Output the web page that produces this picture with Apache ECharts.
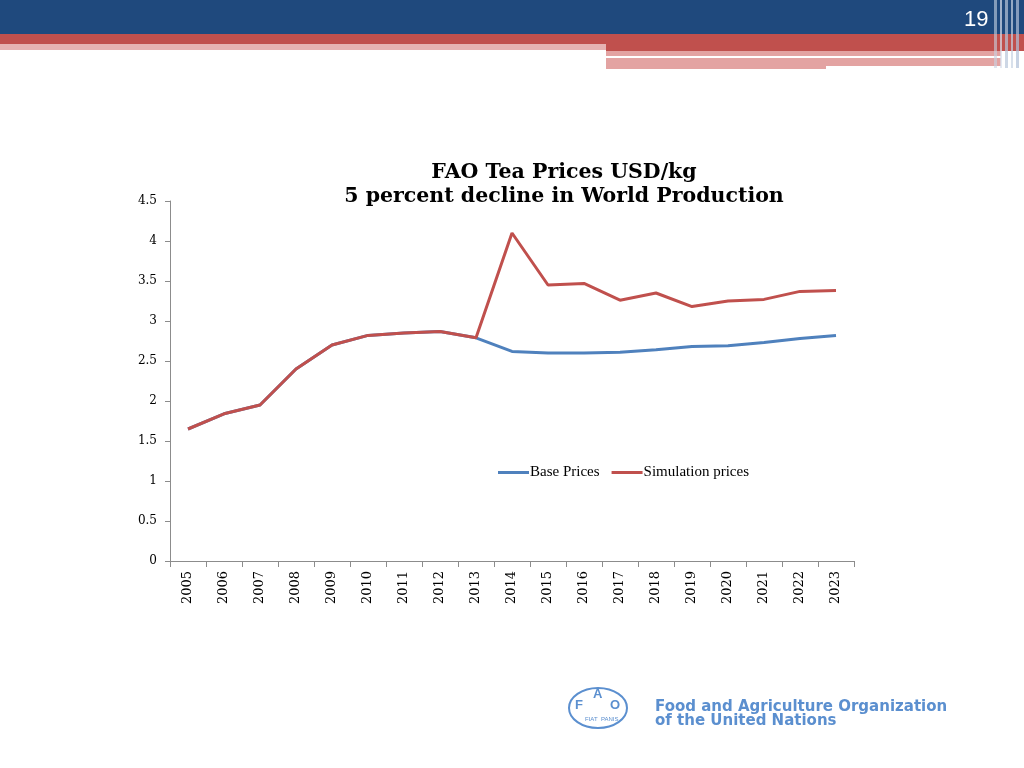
<!DOCTYPE html>
<html>
<head>
<meta charset="utf-8">
<script src="https://cdn.jsdelivr.net/npm/echarts@6/dist/echarts.min.js"></script>
<style>
html,body{margin:0;padding:0;background:#fff;}
#c{width:1024px;height:768px;}
</style>
</head>
<body>
<div id="c"></div>
<script>
var years = ['2005','2006','2007','2008','2009','2010','2011','2012','2013','2014','2015','2016','2017','2018','2019','2020','2021','2022','2023'];
var basePrices = [1.65,1.84,1.95,2.40,2.70,2.82,2.85,2.87,2.79,2.62,2.60,2.60,2.61,2.64,2.68,2.69,2.73,2.78,2.82];
var simulationPrices = [1.65,1.84,1.95,2.40,2.70,2.82,2.85,2.87,2.79,4.10,3.45,3.47,3.26,3.35,3.18,3.25,3.27,3.37,3.38];
var yTicks = ['0','0.5','1','1.5','2','2.5','3','3.5','4','4.5'];

var serif = '"DejaVu Serif","Liberation Serif",serif';
var serif2 = '"Liberation Serif","DejaVu Serif",serif';
var chart = echarts.init(document.getElementById('c'));
chart.setOption({
  backgroundColor: '#ffffff',
  animation: false,
  title: {
    text: 'FAO Tea Prices USD/kg\n5 percent decline in World Production',
    left: 559, top: 156, textAlign: 'center',
    textStyle: {fontFamily: serif, fontWeight: 'bold', fontSize: 20.5, lineHeight: 24, color: '#000'}
  },
  legend: {
    left: 493, top: 460,
    itemWidth: 31, itemHeight: 3, itemGap: 12,
    icon: 'rect',
    textStyle: {fontFamily: serif2, fontSize: 15, color: '#000', padding: [0,0,0,-4]},
    data: ['Base Prices','Simulation prices']
  },
  grid: {left: 170, right: 170, top: 201, bottom: 207, containLabel: false},
  xAxis: {
    type: 'category',
    data: years,
    boundaryGap: true,
    axisLine: {lineStyle: {color: '#8c8c8c', width: 1}},
    axisTick: {show: true, interval: 0, length: 6, lineStyle: {color: '#8c8c8c'}},
    axisLabel: {interval: 0, rotate: 90, fontFamily: serif, fontSize: 13, color: '#000', margin: 10}
  },
  yAxis: {
    type: 'value', min: 0, max: 4.5, interval: 0.5,
    axisLine: {show: true, lineStyle: {color: '#8c8c8c', width: 1}},
    axisTick: {show: true, length: 5, lineStyle: {color: '#8c8c8c'}},
    splitLine: {show: false},
    axisLabel: {fontFamily: serif, fontSize: 12, color: '#000', margin: 13,
      formatter: function(v){ var i = Math.round(v/0.5); return yTicks[i]; }}
  },
  series: [
    {name: 'Base Prices', type: 'line', data: basePrices, symbol: 'none',
     lineStyle: {color: '#4f81bd', width: 3}, itemStyle: {color: '#4f81bd'}},
    {name: 'Simulation prices', type: 'line', data: simulationPrices, symbol: 'none',
     lineStyle: {color: '#c0504d', width: 3}, itemStyle: {color: '#c0504d'}}
  ],
  graphic: [
    {type: 'rect', shape: {x: 0, y: 0, width: 1024, height: 34}, style: {fill: '#1f497d'}, silent: true},
    {type: 'rect', shape: {x: 0, y: 34, width: 1024, height: 11}, style: {fill: '#c0504d'}, silent: true},
    {type: 'rect', shape: {x: 0, y: 44, width: 606, height: 6}, style: {fill: '#e6b3b2'}, silent: true},
    {type: 'rect', shape: {x: 606, y: 44, width: 418, height: 7}, style: {fill: '#c0504d'}, silent: true},
    {type: 'rect', shape: {x: 606, y: 51, width: 395, height: 5}, style: {fill: '#e3a3a2'}, silent: true},
    {type: 'rect', shape: {x: 606, y: 58, width: 220, height: 11}, style: {fill: '#e3a3a2'}, silent: true},
    {type: 'rect', shape: {x: 826, y: 58, width: 175, height: 8}, style: {fill: '#e3a3a2'}, silent: true},
    {type: 'rect', shape: {x: 994, y: 0, width: 3, height: 68}, style: {fill: '#c8d3e3', opacity: 0.6}, silent: true},
    {type: 'rect', shape: {x: 1000, y: 0, width: 2, height: 68}, style: {fill: '#d8e0ec', opacity: 0.7}, silent: true},
    {type: 'rect', shape: {x: 1005, y: 0, width: 3, height: 68}, style: {fill: '#b8c6da', opacity: 0.7}, silent: true},
    {type: 'rect', shape: {x: 1011, y: 0, width: 2, height: 68}, style: {fill: '#c8d3e3', opacity: 0.7}, silent: true},
    {type: 'rect', shape: {x: 1016, y: 0, width: 3, height: 68}, style: {fill: '#b0c0d8', opacity: 0.7}, silent: true},
    {type: 'text', left: 964, top: 9, style: {text: '19', fill: '#ffffff', fontFamily: '"Liberation Sans",Arial,sans-serif', fontSize: 22}},
    {type: 'ellipse', shape: {cx: 598, cy: 708, rx: 29, ry: 20}, style: {fill: 'none', stroke: '#5b8fcf', lineWidth: 2}, silent: true},
    {type: 'text', left: 575, top: 699, style: {text: 'F', fill: '#5b8fcf', fontFamily: '"Liberation Sans",Arial,sans-serif', fontWeight: 'bold', fontSize: 13}},
    {type: 'text', left: 593, top: 688, style: {text: 'A', fill: '#5b8fcf', fontFamily: '"Liberation Sans",Arial,sans-serif', fontWeight: 'bold', fontSize: 13}},
    {type: 'text', left: 610, top: 699, style: {text: 'O', fill: '#5b8fcf', fontFamily: '"Liberation Sans",Arial,sans-serif', fontWeight: 'bold', fontSize: 13}},
    {type: 'text', left: 585, top: 716, style: {text: 'FIAT  PANIS', fill: '#5b8fcf', fontFamily: '"Liberation Sans",Arial,sans-serif', fontSize: 6}},
    {type: 'text', left: 655, top: 700, style: {text: 'Food and Agriculture Organization', fill: '#5b8fcf', fontFamily: '"DejaVu Sans",Verdana,sans-serif', fontWeight: 'bold', fontSize: 15}},
    {type: 'text', left: 655, top: 714, style: {text: 'of the United Nations', fill: '#5b8fcf', fontFamily: '"DejaVu Sans",Verdana,sans-serif', fontWeight: 'bold', fontSize: 15}}
  ]
});
</script>
</body>
</html>
